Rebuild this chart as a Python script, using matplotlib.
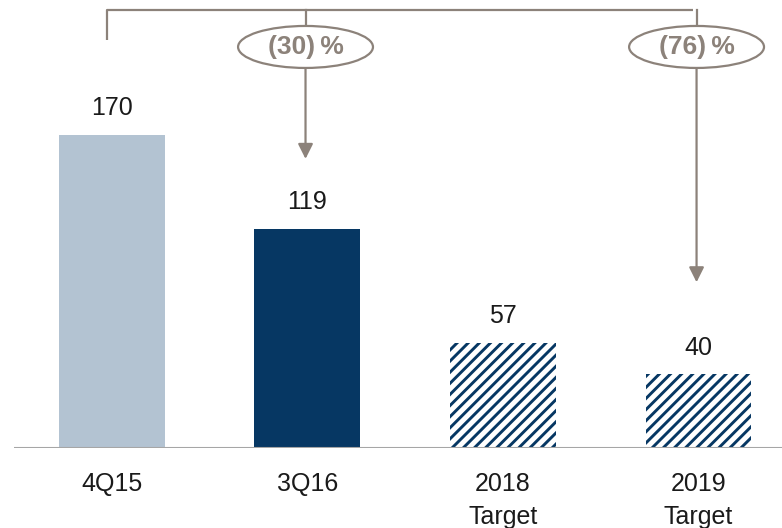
import matplotlib.pyplot as plt
from matplotlib.patches import Ellipse

# Values shown on the chart
categories = ["4Q15", "3Q16", "2018\nTarget", "2019\nTarget"]
values = [170, 119, 57, 40]
change_labels = ["(30)\u2009%", "(76)\u2009%"]
change_targets = [1, 3]          # bars the arrows point to
arrow_tips = [157, 90]           # arrow end heights, data units

light = "#B3C3D2"
navy = "#063763"
grey = "#8C827A"

plt.rcParams["font.family"] = ["Liberation Sans", "DejaVu Sans"]
plt.rcParams["hatch.linewidth"] = 2.1

fig = plt.figure(figsize=(7.82, 5.28), dpi=100)
ax = fig.add_axes([14 / 782, 80 / 528, 768 / 782, 448 / 528])
ax.set_xlim(-0.501, 3.427)
ax.set_ylim(0, 243.3)

x = range(len(values))
width = 0.542
ax.bar(0, values[0], width, color=light)
ax.bar(1, values[1], width, color=navy)
ax.bar([2, 3], values[2:], width, facecolor="white", edgecolor=navy,
       hatch="///", linewidth=0)

for xi, v in zip(x, values):
    ax.text(xi, v + 8, str(v), ha="center", va="bottom", fontsize=18,
            color="#1a1a1a")

# baseline
ax.axhline(0, color="#a6a6a6", lw=1.5, xmin=0, xmax=1)

ax.set_xticks(list(x))
ax.set_xticklabels(categories, fontsize=18, color="#1a1a1a", linespacing=1.5)
ax.tick_params(axis="x", length=0, pad=17)
ax.set_yticks([])
for s in ax.spines.values():
    s.set_visible(False)

# bracket across the top
top = 237.9
ell_y = 217.8
ax.plot([-0.026, -0.026, 2.97], [221.6, top, top], color=grey, lw=1.6,
        solid_capstyle="butt", clip_on=False)
for xt, lab, tip in zip(change_targets, change_labels, arrow_tips):
    xc = xt - 0.01
    ax.plot([xc, xc], [top, ell_y], color=grey, lw=1.6, zorder=1)
    ax.annotate("", xy=(xc, tip), xytext=(xc, ell_y),
                arrowprops=dict(arrowstyle="-|>,head_length=0.9,head_width=0.45",
                                color=grey, lw=1.6, shrinkA=0, shrinkB=0))
    ax.add_patch(Ellipse((xc, ell_y), 0.69, 22.8, facecolor="white",
                         edgecolor=grey, lw=1.6, zorder=3))
    ax.text(xc, ell_y, lab, ha="center", va="center",
            fontsize=19, fontweight="bold", color=grey, zorder=4)

fig.savefig("out.png", dpi=100)
